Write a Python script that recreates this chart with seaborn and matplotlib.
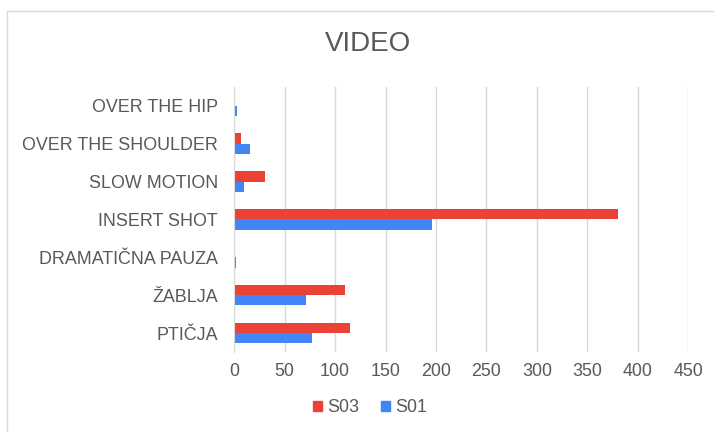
"""Horizontal grouped bar chart: VIDEO shot types, S03 vs S01."""

import matplotlib
matplotlib.use("Agg")
import matplotlib.pyplot as plt
import pandas as pd
import seaborn as sns
from matplotlib.patches import Rectangle

CATEGORIES = [
    "OVER THE HIP",
    "OVER THE SHOULDER",
    "SLOW MOTION",
    "INSERT SHOT",
    "DRAMATIČNA PAUZA",
    "ŽABLJA",
    "PTIČJA",
]
S03 = [0, 7, 31, 380, 0, 110, 115]
S01 = [3, 16, 10, 196, 2, 71, 77]
SERIES = ["S03", "S01"]
COLORS = {"S03": "#EA4335", "S01": "#4285F4"}
X_TICKS = [0, 50, 100, 150, 200, 250, 300, 350, 400, 450]

TEXT_COLOR = "#595959"
GRID_COLOR = "#d9d9d9"


def build_frame() -> pd.DataFrame:
    rows = []
    for cat, a, b in zip(CATEGORIES, S03, S01):
        rows.append({"shot": cat, "series": "S03", "count": a})
        rows.append({"shot": cat, "series": "S01", "count": b})
    return pd.DataFrame(rows)


def main() -> None:
    sns.set_style("white")
    plt.rcParams["font.family"] = ["Liberation Sans", "DejaVu Sans"]

    df = build_frame()
    fig = plt.figure(figsize=(7.14, 4.32), dpi=100)
    ax = fig.add_axes([0.328, 0.185, 0.636, 0.614])

    sns.barplot(
        data=df, y="shot", x="count", hue="series",
        order=CATEGORIES, hue_order=SERIES, palette=COLORS,
        orient="h", width=0.54, gap=0, saturation=1, linewidth=0,
        ax=ax, legend=False,
    )

    ax.set_xlim(0, 450)
    ax.set_xticks(X_TICKS)
    ax.set_xlabel("")
    ax.set_ylabel("")
    ax.grid(axis="x", color=GRID_COLOR, linewidth=1)
    ax.set_axisbelow(True)
    for side in ["top", "right", "bottom"]:
        ax.spines[side].set_visible(False)
    ax.spines["left"].set_color(GRID_COLOR)
    ax.tick_params(axis="both", length=0, colors=TEXT_COLOR, labelsize=12.9)
    ax.tick_params(axis="y", pad=11.5)
    ax.tick_params(axis="x", pad=8)

    fig.text(0.515, 0.897, "VIDEO", ha="center", va="center",
             fontsize=20, color=TEXT_COLOR)

    handles = [Rectangle((0, 0), 1, 1, color=COLORS[s]) for s in SERIES]
    fig.legend(handles, SERIES, loc="center", bbox_to_anchor=(0.518, 0.056),
               ncol=2, frameon=False, fontsize=12.9, labelcolor=TEXT_COLOR,
               handlelength=0.5, handleheight=0.5, handletextpad=0.3,
               columnspacing=1.2)

    fig.patches.append(Rectangle((7 / 714, -0.01), 1.0, 1 - 11 / 432 + 0.01,
                                 transform=fig.transFigure, fill=False,
                                 edgecolor=GRID_COLOR, linewidth=1))

    fig.savefig("out.png", dpi=100)
    plt.close(fig)


if __name__ == "__main__":
    main()
